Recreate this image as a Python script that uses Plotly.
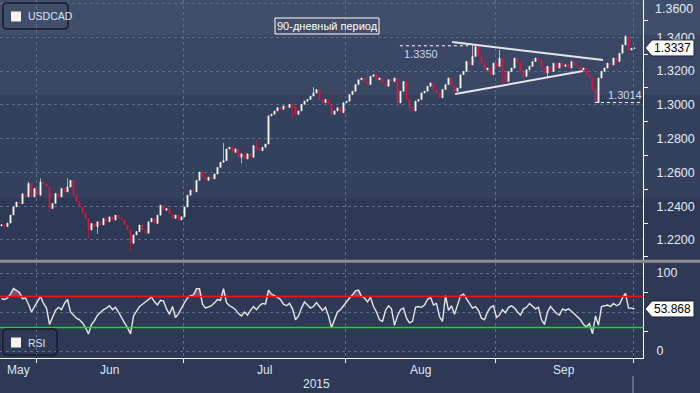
import plotly.graph_objects as go

# ---------------- data ----------------
closes = [
    1.229, 1.228, 1.230, 1.2348, 1.2396, 1.2425, 1.2415, 1.2474, 1.2455, 1.2534,
    1.2455, 1.2505, 1.2465, 1.2543, 1.2533, 1.2514, 1.2386, 1.2416, 1.2475, 1.2455,
    1.2505, 1.2485, 1.2514, 1.2553, 1.2465, 1.2426, 1.2396, 1.2358, 1.2329, 1.2259,
    1.2298, 1.2279, 1.2308, 1.2289, 1.2328, 1.2308, 1.2337, 1.2318, 1.2347, 1.2328,
    1.2318, 1.2289, 1.226, 1.218, 1.223, 1.225, 1.2289, 1.226, 1.224, 1.2308,
    1.2328, 1.2298, 1.2347, 1.2406, 1.2376, 1.2386, 1.2357, 1.2328, 1.2347, 1.2318,
    1.2337, 1.2396, 1.2465, 1.2495, 1.2485, 1.2553, 1.2602, 1.2572, 1.2553, 1.2572,
    1.2562, 1.2591, 1.263, 1.266, 1.267, 1.2739, 1.2749, 1.2719, 1.2739, 1.269,
    1.271, 1.268, 1.271, 1.269, 1.2759, 1.2739, 1.2729, 1.2749, 1.2768, 1.2935,
    1.2945, 1.2964, 1.2984, 1.2974, 1.2994, 1.2984, 1.3003, 1.2993, 1.2944, 1.2964,
    1.3003, 1.3022, 1.3032, 1.3052, 1.3071, 1.3091, 1.3032, 1.3013, 1.3032, 1.3003,
    1.2944, 1.2964, 1.2983, 1.2954, 1.3013, 1.3022, 1.3061, 1.3081, 1.312, 1.3149,
    1.3159, 1.3139, 1.312, 1.3169, 1.3179, 1.3149, 1.3159, 1.313, 1.311, 1.3149,
    1.3139, 1.3159, 1.3012, 1.3081, 1.3139, 1.3032, 1.2983, 1.2964, 1.3022, 1.3032,
    1.3071, 1.3081, 1.311, 1.313, 1.3091, 1.3071, 1.3042, 1.3091, 1.312, 1.3159,
    1.311, 1.3081, 1.31, 1.3179, 1.3198, 1.3257, 1.3237, 1.3287, 1.3345, 1.3287,
    1.3247, 1.3208, 1.3218, 1.3179, 1.3247, 1.3228, 1.3277, 1.3189, 1.3139, 1.3198,
    1.3218, 1.3277, 1.3247, 1.3198, 1.3169, 1.3208, 1.3228, 1.3257, 1.3277, 1.3267,
    1.3218, 1.3189, 1.3228, 1.3198, 1.3247, 1.3218, 1.3247, 1.3228, 1.3237, 1.3218,
    1.3257, 1.3237, 1.3228, 1.3208, 1.3218, 1.3179, 1.3159, 1.309, 1.3014, 1.3159,
    1.3198, 1.3218, 1.3247, 1.3237, 1.3277, 1.3257, 1.3306, 1.3355, 1.3405, 1.3325,
    1.3335, 1.3337,
]
first_open = 1.2284
# visible wick extremes (candle index -> price)
wick_highs = {9: 1.2545, 13: 1.2565, 22: 1.2565, 64: 1.2625, 74: 1.2775, 85: 1.279,
              104: 1.3105, 122: 1.321, 157: 1.3355, 166: 1.3325, 208: 1.3414}
wick_lows = {16: 1.2365, 29: 1.221, 32: 1.2235, 43: 1.2135, 80: 1.2655, 97: 1.292,
             110: 1.2925, 132: 1.298, 136: 1.2958, 167: 1.312, 174: 1.3145, 182: 1.3165}

rsi_values = [
    67, 66, 68, 73, 80, 77, 75, 67, 68, 60,
    50, 57, 63, 70, 61, 55, 34, 44, 52, 56,
    53, 61, 66, 50, 46, 42, 40, 36, 30, 22,
    34, 39, 46, 50, 53, 55, 58, 53, 56, 50,
    42, 36, 30, 22, 45, 51, 57, 60, 63, 67,
    69, 63, 59, 65, 64, 54, 47, 57, 43, 48,
    56, 62, 68, 71, 72, 80, 80, 60, 55, 57,
    58, 62, 66, 65, 80, 62, 58, 56, 53, 48,
    45, 50, 46, 52, 57, 53, 58, 61, 60, 78,
    73, 71, 69, 66, 60, 58, 61, 54, 40, 45,
    55, 63, 59, 55, 57, 62, 57, 52, 56, 45,
    30, 40, 50, 53, 58, 64, 68, 72, 77, 78,
    70, 68, 63, 69, 57, 50, 40, 38, 52, 58,
    54, 33, 45, 53, 55, 42, 36, 38, 56, 57,
    56, 59, 66, 69, 59, 61, 44, 38, 71, 52,
    58, 47, 60, 71, 73, 67, 60, 55, 57, 52,
    42, 40, 50, 56, 58, 43, 46, 53, 49, 56,
    58, 55, 50, 46, 54, 56, 61, 58, 54, 56,
    40, 34, 50, 57, 52, 48, 46, 54, 52, 54,
    51, 47, 43, 40, 34, 31, 35, 22, 45, 33,
    57, 58, 59, 57, 61, 58, 60, 68, 74, 55,
    55, 53.868,
]

month_labels = ["May", "Jun", "Jul", "Aug", "Sep"]
month_first_candle = [12, 61, 115, 165, 211]   # first candle of Jun, Jul, Aug, Sep, Oct
year_label = "2015"

price_tick_values = [1.22, 1.24, 1.26, 1.28, 1.30, 1.32, 1.34, 1.36]
price_minor_values = [1.21, 1.23, 1.25, 1.27, 1.29, 1.31, 1.33, 1.35]
rsi_tick_values = [0, 50, 100]
rsi_tick_text = ["0", "", "100"]
rsi_minor_values = [25, 75]
rsi_overbought = 70
rsi_oversold = 30

series_name = "USDCAD"
indicator_name = "RSI"
last_price = 1.3337
last_rsi = 53.868

level_high = 1.3350
level_high_span = [132.8, 155.5]
level_low = 1.3014
level_low_span = [197.8, 213.5]
upper_trend_x = [150.2, 200.5]
upper_trend_y = [1.3372, 1.3266]
lower_trend_x = [151.2, 193.8]
lower_trend_y = [1.3064, 1.3200]
period_note = "90-дневный период"

# ---------------- geometry helpers ----------------
W, H = 700, 393
ML, MR, MT, MB = 0, 57, 0, 35
PW, PH = W - ML - MR, H - MT - MB          # plot area 643 x 358


def px(x):
    return (x - ML) / PW


def py(y):
    return (PH - (y - MT)) / PH


MAIN_BOTTOM_PX = 259.5
RSI_TOP_PX = 263
main_domain = [py(MAIN_BOTTOM_PX), 1.0]
rsi_domain = [0.0, py(RSI_TOP_PX)]

n = len(closes)
idx = list(range(n))
x_range = [-0.5, -0.5 + PW / 3.0]
y_range = [1.20845, 1.3621]
y2_range = [-8.97, 112.82]

opens = [first_open] + closes[:-1]
highs = [max(o, c) for o, c in zip(opens, closes)]
lows = [min(o, c) for o, c in zip(opens, closes)]
for k, v in wick_highs.items():
    highs[k] = max(highs[k], v)
for k, v in wick_lows.items():
    lows[k] = min(lows[k], v)

boundaries = [m - 0.5 for m in month_first_candle]
starts = [-0.5] + boundaries[:-1]
month_mid = [(a + b) / 2 for a, b in zip(starts, boundaries)]

FONT = "Liberation Sans, Arial, sans-serif"
GRID = "#587089"
TXT = "#dfe6f1"
RED = "#e0163c"

fig = go.Figure()

fig.add_trace(go.Candlestick(
    x=idx, open=opens, high=highs, low=lows, close=closes,
    increasing=dict(line=dict(color="#ffffff", width=0.6), fillcolor="#fdfaf6"),
    decreasing=dict(line=dict(color=RED, width=0.6), fillcolor=RED),
    whiskerwidth=0, xaxis="x", yaxis="y", hoverinfo="skip", showlegend=False,
))

# RSI overbought fill
fig.add_trace(go.Scatter(
    x=idx, y=[rsi_overbought] * n, mode="lines", line=dict(width=0),
    xaxis="x2", yaxis="y2", hoverinfo="skip", showlegend=False,
))
fig.add_trace(go.Scatter(
    x=idx, y=[max(v, rsi_overbought) for v in rsi_values], mode="lines",
    line=dict(width=0), fill="tonexty", fillcolor="rgba(150,80,104,0.85)",
    xaxis="x2", yaxis="y2", hoverinfo="skip", showlegend=False,
))
fig.add_trace(go.Scatter(
    x=idx, y=rsi_values, mode="lines", line=dict(color="#e6e6e6", width=1.4),
    xaxis="x2", yaxis="y2", hoverinfo="skip", showlegend=False,
))

# triangle pointers on the right axes
x_tri = x_range[1] + 4.5 / 3.0
fig.add_trace(go.Scatter(
    x=[x_tri] * len(price_tick_values), y=price_tick_values, mode="markers",
    marker=dict(symbol="triangle-right", size=8, color="#ffffff"),
    cliponaxis=False, xaxis="x", yaxis="y", hoverinfo="skip", showlegend=False,
))
fig.add_trace(go.Scatter(
    x=[x_tri, x_tri], y=[rsi_tick_values[0], rsi_tick_values[-1]], mode="markers",
    marker=dict(symbol="triangle-right", size=8, color="#ffffff"),
    cliponaxis=False, xaxis="x2", yaxis="y2", hoverinfo="skip", showlegend=False,
))

shapes = []
# background bands
bands = [(0, 35, "#414e69"), (35, 95, "#3a4764"), (95, 198, "#34415d")]
for y0, y1, col in bands:
    shapes.append(dict(type="rect", xref="paper", yref="paper", x0=0, x1=px(W),
                       y0=py(y1), y1=py(y0), fillcolor=col, line=dict(width=0),
                       layer="below"))
# separator
shapes.append(dict(type="line", xref="paper", yref="paper", x0=0, x1=px(W),
                   y0=py(261.3), y1=py(261.3), line=dict(color="#8e8e8e", width=3)))
# RSI levels
shapes.append(dict(type="line", xref="paper", yref="y2", x0=0, x1=1,
                   y0=rsi_overbought, y1=rsi_overbought, line=dict(color="#ff1010", width=1.5)))
shapes.append(dict(type="line", xref="paper", yref="y2", x0=0, x1=1,
                   y0=rsi_oversold, y1=rsi_oversold, line=dict(color="#10e010", width=1.5)))
# trend lines
shapes.append(dict(type="line", xref="x", yref="y", x0=upper_trend_x[0], x1=upper_trend_x[1],
                   y0=upper_trend_y[0], y1=upper_trend_y[1],
                   line=dict(color="rgba(238,238,238,0.95)", width=2)))
shapes.append(dict(type="line", xref="x", yref="y", x0=lower_trend_x[0], x1=lower_trend_x[1],
                   y0=lower_trend_y[0], y1=lower_trend_y[1],
                   line=dict(color="rgba(238,238,238,0.95)", width=2)))
# level lines
shapes.append(dict(type="line", xref="x", yref="y", x0=level_high_span[0], x1=level_high_span[1],
                   y0=level_high, y1=level_high, line=dict(color="#ffffff", width=1, dash="dot")))
shapes.append(dict(type="line", xref="x", yref="y", x0=level_low_span[0], x1=level_low_span[1],
                   y0=level_low, y1=level_low, line=dict(color="#ffffff", width=1, dash="dot")))


def rrect(x0, y0, x1, y1, r):
    return (f"M {px(x0 + r)},{py(y0)} L {px(x1 - r)},{py(y0)} "
            f"Q {px(x1)},{py(y0)} {px(x1)},{py(y0 + r)} L {px(x1)},{py(y1 - r)} "
            f"Q {px(x1)},{py(y1)} {px(x1 - r)},{py(y1)} L {px(x0 + r)},{py(y1)} "
            f"Q {px(x0)},{py(y1)} {px(x0)},{py(y1 - r)} L {px(x0)},{py(y0 + r)} "
            f"Q {px(x0)},{py(y0)} {px(x0 + r)},{py(y0)} Z")


# legend boxes
for (bx0, by0, bx1, by1) in [(3, 3, 68, 29), (3, 329, 57, 355)]:
    shapes.append(dict(type="path", xref="paper", yref="paper", path=rrect(bx0, by0, bx1, by1, 4),
                       line=dict(color="#161c2a", width=1.5)))
    shapes.append(dict(type="rect", xref="paper", yref="paper", x0=px(bx0 + 8), x1=px(bx0 + 18),
                       y0=py(by0 + 18.5), y1=py(by0 + 8.5), fillcolor="#f7f2ee",
                       line=dict(width=0)))
# period note box
shapes.append(dict(type="rect", xref="paper", yref="paper", x0=px(275), x1=px(379),
                   y0=py(34), y1=py(18), line=dict(color="#ffffff", width=1)))

# flags
h_main = 8 * (y_range[1] - y_range[0]) / MAIN_BOTTOM_PX
h_rsi = 8 * (y2_range[1] - y2_range[0]) / (PH - RSI_TOP_PX)
for v, h, yr in [(last_price, h_main, "y"), (last_rsi, h_rsi, "y2")]:
    path = (f"M {px(645)},{v} L {px(652)},{v + h} L {px(694)},{v + h} "
            f"L {px(694)},{v - h} L {px(652)},{v - h} Z")
    shapes.append(dict(type="path", xref="paper", yref=yr, path=path,
                       fillcolor="#ffffff", line=dict(color="#1c2232", width=1)))
# year row marker
shapes.append(dict(type="line", xref="x2", yref="paper", x0=boundaries[-1], x1=boundaries[-1],
                   y0=py(376), y1=py(393), line=dict(color="#9aa0b0", width=1)))

annotations = []
annotations.append(dict(text=series_name, xref="paper", yref="paper", x=px(26), y=py(16.5),
                        xanchor="left", yanchor="middle", showarrow=False,
                        font=dict(family=FONT, size=10.5, color="#d6e2f4")))
annotations.append(dict(text=indicator_name, xref="paper", yref="paper", x=px(26), y=py(342.5),
                        xanchor="left", yanchor="middle", showarrow=False,
                        font=dict(family=FONT, size=10.5, color="#d6e2f4")))
annotations.append(dict(text=period_note, xref="paper", yref="paper", x=px(327), y=py(26),
                        xanchor="center", yanchor="middle", showarrow=False,
                        font=dict(family=FONT, size=11, color="#ffffff")))
annotations.append(dict(text=f"{level_high:.4f}", xref="x", yref="y", x=level_high_span[0], y=level_high,
                        xanchor="left", yanchor="middle", xshift=2, yshift=-8.5, showarrow=False,
                        font=dict(family=FONT, size=11, color="#cad8ec")))
annotations.append(dict(text=f"{level_low:.4f}", xref="x", yref="y", x=level_low_span[0], y=level_low,
                        xanchor="left", yanchor="middle", xshift=11, yshift=7.5, showarrow=False,
                        font=dict(family=FONT, size=11, color="#cad8ec")))
annotations.append(dict(text=f"{last_price:.4f}", xref="paper", yref="y", x=px(673), y=last_price,
                        xanchor="center", yanchor="middle", showarrow=False,
                        font=dict(family=FONT, size=12, color="#000000")))
annotations.append(dict(text=f"{last_rsi:.3f}", xref="paper", yref="y2", x=px(673), y=last_rsi,
                        xanchor="center", yanchor="middle", showarrow=False,
                        font=dict(family=FONT, size=12, color="#000000")))
annotations.append(dict(text=f"{price_tick_values[-1]:.4f}", xref="paper", yref="paper",
                        x=px(653), y=py(9), xanchor="left", yanchor="middle", showarrow=False,
                        font=dict(family=FONT, size=12.5, color="#e4ebf5")))
for lab, mx in zip(month_labels, month_mid):
    annotations.append(dict(text=lab, xref="x2", yref="paper", x=mx, y=py(369.5),
                            xanchor="center", yanchor="middle", showarrow=False,
                            font=dict(family=FONT, size=12, color=TXT)))
annotations.append(dict(text=year_label, xref="x2", yref="paper", x=(starts[0] + boundaries[-1]) / 2,
                        y=py(384), xanchor="center", yanchor="middle", showarrow=False,
                        font=dict(family=FONT, size=12, color=TXT)))

price_tick_text = [f"{v:.4f}" for v in price_tick_values[:-1]] + [""]

fig.update_layout(
    width=W, height=H,
    margin=dict(l=ML, r=MR, t=MT, b=MB, pad=0),
    paper_bgcolor="#2d3955", plot_bgcolor="rgba(0,0,0,0)",
    showlegend=False, hovermode=False, boxgap=0.45,
    shapes=shapes, annotations=annotations,
    xaxis=dict(domain=[0, 1], anchor="y", range=x_range, tickvals=boundaries,
               showticklabels=False, ticks="", showgrid=True, gridcolor=GRID, griddash="dot",
               gridwidth=1, zeroline=False, showline=False, rangeslider=dict(visible=False),
               fixedrange=True),
    xaxis2=dict(domain=[0, 1], anchor="y2", range=x_range, matches="x", tickvals=boundaries,
                showticklabels=False, ticks="outside", ticklen=4, tickcolor="#ffffff",
                showgrid=True, gridcolor=GRID, griddash="dot", gridwidth=1, zeroline=False,
                showline=True, linecolor="#ffffff", linewidth=1, fixedrange=True),
    yaxis=dict(domain=main_domain, anchor="x", side="right", range=y_range,
               tickvals=price_tick_values, ticktext=price_tick_text,
               tickfont=dict(family=FONT, size=12.5, color="#e4ebf5"),
               ticks="", ticklabelstandoff=10, showline=True, linecolor="#ffffff", linewidth=1,
               showgrid=True, gridcolor=GRID, griddash="dot", gridwidth=1, zeroline=False,
               minor=dict(tickvals=price_minor_values, ticks="outside", ticklen=4,
                          tickcolor="#ffffff", showgrid=False),
               fixedrange=True),
    yaxis2=dict(domain=rsi_domain, anchor="x2", side="right", range=y2_range,
                tickvals=rsi_tick_values, ticktext=rsi_tick_text,
                tickfont=dict(family=FONT, size=12.5, color="#e4ebf5"),
                ticks="", ticklabelstandoff=10, showline=True, linecolor="#ffffff", linewidth=1,
                showgrid=True, gridcolor=GRID, griddash="dot", gridwidth=1, zeroline=False,
                minor=dict(tickvals=rsi_minor_values, ticks="outside", ticklen=4,
                           tickcolor="#ffffff", showgrid=False),
                fixedrange=True),
)

fig.write_html("out.html", config={"displayModeBar": False},
               post_script="document.body.style.margin='0';document.body.style.background='#2d3955';")
